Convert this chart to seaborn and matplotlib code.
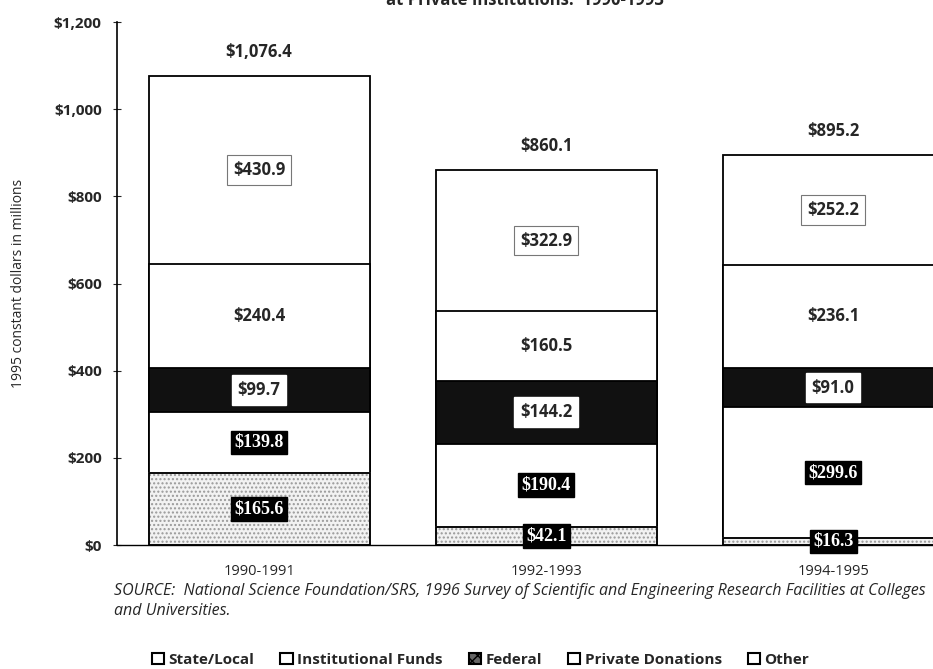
import pandas as pd
import matplotlib.pyplot as plt
import seaborn as sns
from matplotlib.patches import Patch

periods = ["1990-1991", "1992-1993", "1994-1995"]
sources = ["State/Local", "Institutional Funds", "Federal", "Private Donations", "Other"]
state_local = [165.6, 42.1, 16.3]
institutional = [139.8, 190.4, 299.6]
federal = [99.7, 144.2, 91.0]
private = [240.4, 160.5, 236.1]
other = [430.9, 322.9, 252.2]
totals = ["$1,076.4", "$860.1", "$895.2"]

sns.set_theme(style="white")
plt.rcParams['font.family'] = ['Open Sans', 'DejaVu Sans']

df = pd.DataFrame({"period": periods, "State/Local": state_local,
                   "Institutional Funds": institutional, "Federal": federal,
                   "Private Donations": private, "Other": other})
long = df.melt(id_vars="period", var_name="source", value_name="value")
long["source"] = pd.Categorical(long["source"], sources, ordered=True)
long = long.sort_values(["period", "source"])
long["top"] = long.groupby("period")["value"].cumsum()
long["mid"] = long["top"] - long["value"] / 2

fig = plt.figure(figsize=(9.33, 6.69), dpi=100)
ax = fig.add_axes([0.1254, 0.1853, 0.8746, 0.7817])

faces = {"State/Local": "#f2f2f2", "Institutional Funds": "white", "Federal": "#111111",
         "Private Donations": "white", "Other": "white"}
hatches = {"State/Local": "....", "Institutional Funds": None, "Federal": None,
           "Private Donations": None, "Other": None}

# draw cumulative stacks from the top down so smaller ones cover the bigger
for src in reversed(sources):
    sub = long[long["source"] == src]
    sns.barplot(data=sub, x="period", y="top", order=periods, ax=ax, width=0.77,
                color=faces[src], edgecolor="black", linewidth=1.3,
                hatch=hatches[src], saturation=1)
for p in ax.patches:
    if p.get_hatch():
        p.set_edgecolor("#999999")
sub = long[long["source"] == "State/Local"]
sns.barplot(data=sub, x="period", y="top", order=periods, ax=ax, width=0.77,
            fill=False, edgecolor="black", linewidth=1.3)

# segment labels
for _, r in long.iterrows():
    i = periods.index(r["period"])
    txt = f"${r['value']:.1f}"
    src = r["source"]
    if src == "Other":
        ax.text(i, r["mid"], txt, ha="center", va="center", fontsize=12, fontweight="bold",
                bbox=dict(boxstyle="square,pad=0.35", fc="white", ec="#777777", lw=0.8))
    elif src == "Private Donations":
        ax.text(i, r["mid"], txt, ha="center", va="center", fontsize=12, fontweight="bold")
    elif src == "Federal":
        ax.text(i, r["mid"], txt, ha="center", va="center", fontsize=12, fontweight="bold",
                bbox=dict(boxstyle="square,pad=0.35", fc="white", ec="white"))
    else:
        ax.text(i, r["mid"], txt, ha="center", va="center", fontsize=13, fontweight="bold",
                color="white", family=["Liberation Serif", "DejaVu Serif"],
                bbox=dict(boxstyle="square,pad=0.18", fc="black", ec="black"))

tot_vals = df[sources].sum(axis=1)
for i, t in enumerate(totals):
    ax.text(i, tot_vals[i] + 55, t, ha="center", va="center", fontsize=12, fontweight="bold")

ax.set_ylim(0, 1200)
ax.set_xlim(-0.495, 2.348)
ax.set_yticks(range(0, 1201, 200))
ax.set_yticklabels([f"${v:,}" for v in range(0, 1201, 200)], fontsize=11, fontweight="bold")
ax.set_xticks([0.5, 1.5], minor=True)
ax.tick_params(axis="x", which="major", length=0, pad=14, labelsize=10.5)
ax.tick_params(axis="x", which="minor", length=6, direction="inout", width=0.8)
ax.tick_params(axis="y", length=6, direction="inout", width=0.8, left=True, pad=8)
ax.set_xticklabels(periods)
ax.set_xlabel("")
ax.set_ylabel("1995 constant dollars in millions", fontsize=10, labelpad=20)
sns.despine(ax=ax, top=True, right=True)
ax.spines["left"].set_linewidth(1.2)
ax.spines["bottom"].set_linewidth(1.0)
ax.spines["left"].set_color("black")
ax.spines["bottom"].set_color("black")

# title is partly cropped off the top in the scan
fig.text(0.563, 0.986, "at Private Institutions:  1990-1993", ha="center", va="bottom",
         fontsize=12, fontweight="bold")
fig.text(0.122, 0.102, "SOURCE:  National Science Foundation/SRS, 1996 Survey of Scientific and "
         "Engineering Research Facilities at Colleges\nand Universities.",
         ha="left", va="center", fontsize=11.5, style="italic", linespacing=1.3)

handles = [Patch(fc="white", ec="black", lw=1.5, label="State/Local"),
           Patch(fc="white", ec="black", lw=1.5, label="Institutional Funds"),
           Patch(fc="#666666", ec="black", lw=1.5, hatch="xxx", label="Federal"),
           Patch(fc="white", ec="black", lw=1.5, label="Private Donations"),
           Patch(fc="white", ec="black", lw=1.5, label="Other")]
fig.legend(handles=handles, loc="center", bbox_to_anchor=(0.515, 0.014), ncol=5,
           frameon=False, prop={"weight": "bold", "size": 11}, handlelength=0.8,
           handleheight=0.8, handletextpad=0.3, columnspacing=1.7)

fig.savefig("out.png", dpi=100)
